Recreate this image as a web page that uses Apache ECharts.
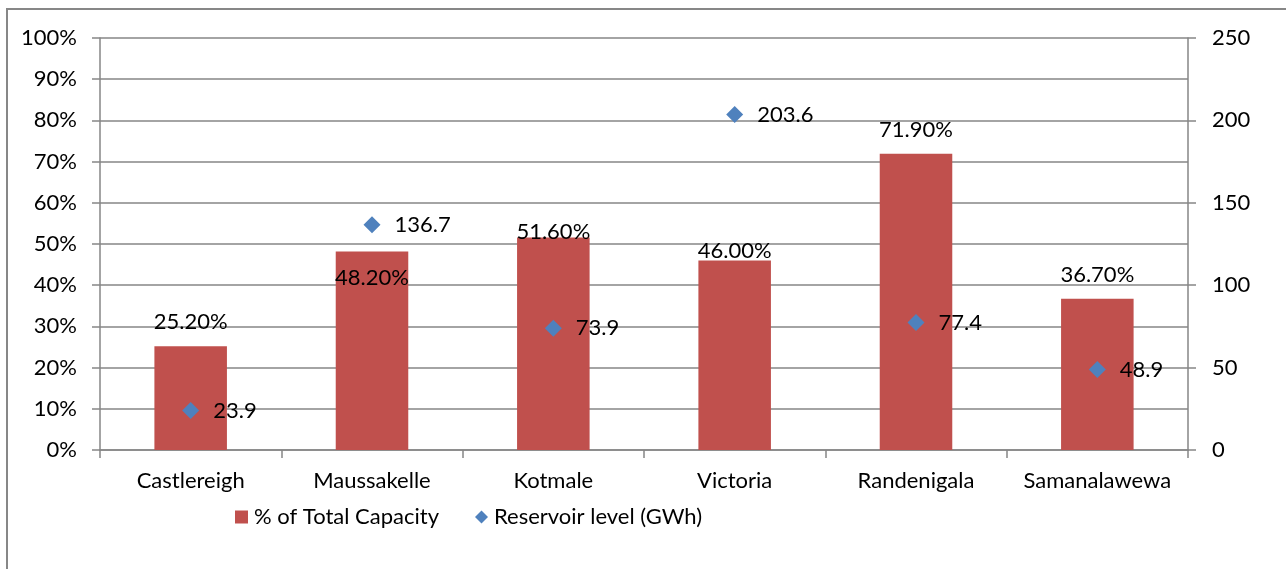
<!DOCTYPE html>
<html><head><meta charset="utf-8">
<script src="https://cdn.jsdelivr.net/npm/echarts@6/dist/echarts.min.js"></script>
<style>html,body{margin:0;padding:0;background:#fff}#c{width:1286px;height:569px}</style>
</head><body><div id="c"></div>
<script>
const categories = ['Castlereigh','Maussakelle','Kotmale','Victoria','Randenigala','Samanalawewa'];
const capacityPct = [25.2, 48.2, 51.6, 46.0, 71.9, 36.7];
const reservoirGWh = [23.9, 136.7, 73.9, 203.6, 77.4, 48.9];
const leftTicks = [0,10,20,30,40,50,60,70,80,90,100];
const rightTicks = [0,50,100,150,200,250];

const FONT = 'Lato';
const FS = 22;
const gray = '#868686';
const labelAdjust = [
  {position:'top', distance:13},
  {position:'insideTop', distance:15},
  {position:'top', distance:-5},
  {position:'top', distance:-1},
  {position:'top', distance:13},
  {position:'top', distance:13}
];
const chart = echarts.init(document.getElementById('c'));
chart.setOption({
  animation:false,
  textStyle:{fontFamily:FONT},
  graphic:[{type:'rect',shape:{x:7,y:9,width:1300,height:600},style:{fill:'none',stroke:'#878787',lineWidth:2},silent:true}],
  grid:{left:100,right:98,top:38,bottom:119},
  legend:{
    bottom:36,left:230,itemGap:36,itemWidth:13,itemHeight:13,
    textStyle:{fontFamily:FONT,fontSize:FS,color:'#000',padding:[0,0,0,1]},
    data:[{name:'% of Total Capacity',icon:'rect'},{name:'Reservoir level (GWh)',icon:'diamond'}]
  },
  xAxis:{type:'category',data:categories,
    axisLine:{lineStyle:{color:gray,width:1.5}},
    axisTick:{show:true,interval:0,length:8,lineStyle:{color:gray,width:1.5}},
    axisLabel:{interval:0,fontFamily:FONT,fontSize:FS,color:'#000',margin:20}},
  yAxis:[
    {type:'value',min:0,max:100,interval:10,
     axisLine:{show:true,lineStyle:{color:gray,width:1.5}},
     axisTick:{show:true,length:8,lineStyle:{color:gray,width:1.5}},
     splitLine:{lineStyle:{color:gray,width:1.5}},
     axisLabel:{fontFamily:FONT,fontSize:FS,color:'#000',margin:23,formatter:v=>v+'%'}},
    {type:'value',min:0,max:250,interval:50,
     axisLine:{show:true,lineStyle:{color:gray,width:1.5}},
     axisTick:{show:true,length:8,lineStyle:{color:gray,width:1.5}},
     splitLine:{show:false},
     axisLabel:{fontFamily:FONT,fontSize:FS,color:'#000',margin:24}}
  ],
  series:[
    {name:'% of Total Capacity',type:'bar',barWidth:'40%',yAxisIndex:0,
     itemStyle:{color:'#C0504D'},
     data:capacityPct.map((v,i)=>({value:v,label:{show:true,position:labelAdjust[i].position,distance:labelAdjust[i].distance}})),
     label:{show:true,fontFamily:FONT,fontSize:FS,color:'#000',formatter:p=>p.value.toFixed(2)+'%'}},
    {name:'Reservoir level (GWh)',type:'scatter',yAxisIndex:1,symbol:'diamond',symbolSize:[17,17],
     itemStyle:{color:'#4F81BD',opacity:1},
     data:reservoirGWh,
     label:{show:true,position:'right',distance:14,fontFamily:FONT,fontSize:FS,color:'#000',formatter:p=>String(p.value)}}
  ]
});
</script></body></html>
